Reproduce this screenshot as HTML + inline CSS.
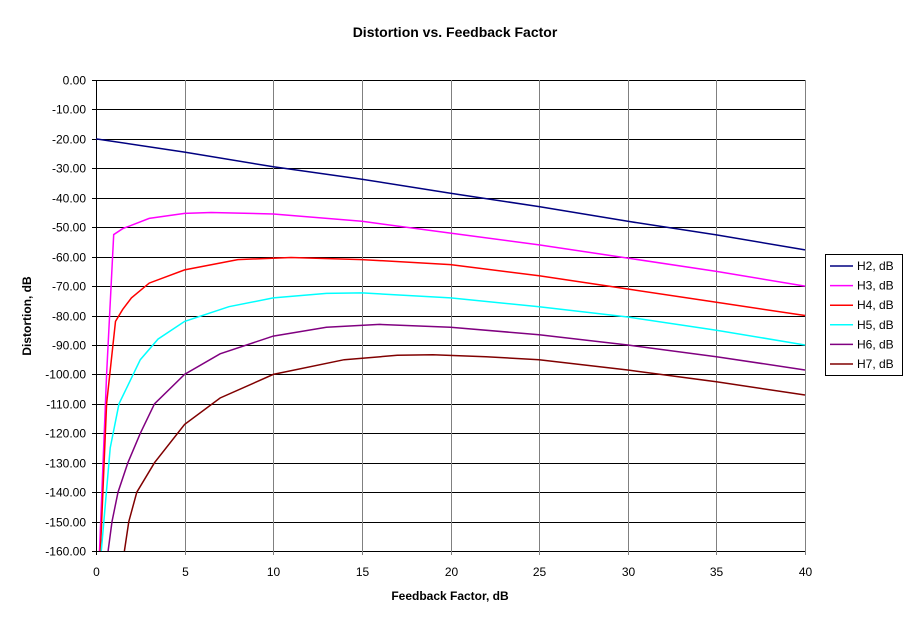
<!DOCTYPE html>
<html><head><style>body{margin:0;background:#fff}svg{display:block;font-family:"Liberation Sans",Arial,sans-serif}</style></head>
<body>
<svg id="s" width="911" height="622" xmlns="http://www.w3.org/2000/svg">
<text x="455" y="37" text-anchor="middle" font-size="14" font-weight="bold">Distortion vs. Feedback Factor</text>
<text x="450" y="600" text-anchor="middle" font-size="12" font-weight="bold">Feedback Factor, dB</text>
<text transform="translate(31,316) rotate(-90)" text-anchor="middle" font-size="12" font-weight="bold">Distortion, dB</text>
<g id="grid"></g>
<g id="series" fill="none" stroke-width="1.5"></g>
<rect x="825.5" y="254.5" width="77" height="121" fill="#fff" stroke="#000"/>
<g id="leg" font-size="12"></g>
</svg>
<script>
const X=f=>96+f*17.725, Y=d=>80-d*2.944;
const ns="http://www.w3.org/2000/svg";
function el(p,t,a,txt){const e=document.createElementNS(ns,t);for(const k in a)e.setAttribute(k,a[k]);if(txt!=null)e.textContent=txt;p.appendChild(e);return e;}
const g=document.getElementById('grid');
for(let i=0;i<=16;i++){const y=Math.round(Y(-i*10))+0.5;el(g,'line',{x1:96,x2:805,y1:y,y2:y,stroke:'#000','stroke-width':1});
el(g,'line',{x1:92,x2:96,y1:y,y2:y,stroke:'#000'});
el(g,'text',{x:86,y:y+4,'text-anchor':'end','font-size':12},(i==0?'0.00':'-'+(i*10)+'.00'));}
for(let i=0;i<=8;i++){const x=Math.round(X(i*5))+0.5;el(g,'line',{x1:x,x2:x,y1:80,y2:555,stroke:i==0?'#000':'#808080','stroke-width':1});
el(g,'text',{x:x,y:576,'text-anchor':'middle','font-size':12},i*5);}
const S=[
['#000080',[[0,-20],[5,-24.5],[10,-29.5],[15,-33.7],[20,-38.5],[25,-43],[30,-48],[35,-52.6],[40,-57.7]]],
['#ff00ff',[[0.2,-160],[0.6,-100],[1,-52.5],[1.5,-50.5],[3,-47],[5,-45.3],[6.5,-45],[10,-45.5],[15,-48],[20,-52],[25,-56],[30,-60.5],[35,-65],[40,-70]]],
['#ff0000',[[0.25,-160],[0.6,-110],[1.1,-82],[1.5,-78],[2,-74],[3,-69],[5,-64.5],[8,-61],[11,-60.3],[15,-61],[20,-62.7],[25,-66.5],[30,-71],[35,-75.5],[40,-80]]],
['#00ffff',[[0.3,-160],[0.8,-125],[1.3,-110],[2.5,-95],[3.5,-88],[5,-82],[7.5,-77],[10,-74],[13,-72.5],[15,-72.3],[20,-74],[25,-77],[30,-80.5],[35,-85],[40,-90]]],
['#800080',[[0.68,-160],[0.9,-150],[1.24,-140],[1.8,-130],[2.5,-120],[3.3,-110],[5,-100],[7,-93],[10,-87],[13,-84],[16,-83],[20,-84],[25,-86.5],[30,-90],[35,-94],[40,-98.5]]],
['#800000',[[1.6,-160],[1.85,-150],[2.3,-140],[3.3,-130],[5,-117],[7,-108],[10,-100],[14,-95],[17,-93.5],[19,-93.3],[22,-94],[25,-95],[30,-98.5],[35,-102.5],[40,-107]]]];
const sg=document.getElementById('series'),lg=document.getElementById('leg');
S.forEach((s,i)=>{el(sg,'polyline',{stroke:s[0],points:s[1].map(p=>X(p[0]).toFixed(1)+','+Y(p[1]).toFixed(1)).join(' ')});
const y=266+i*19.6;el(lg,'line',{x1:830,x2:853,y1:y,y2:y,stroke:s[0],'stroke-width':1.5});
el(lg,'text',{x:857,y:y+4},'H'+(i+2)+', dB');});
</script>
</body></html>
